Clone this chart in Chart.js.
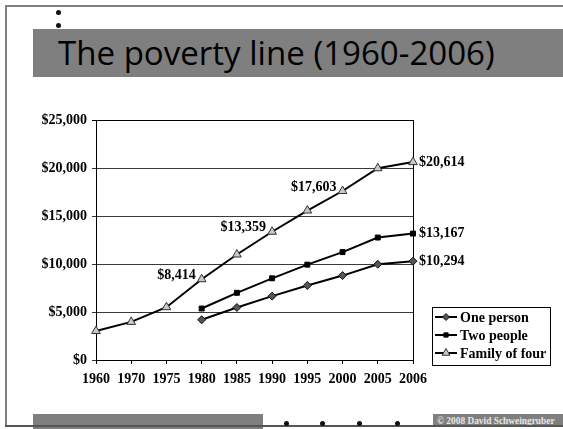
<!DOCTYPE html>
<html>
<head>
<meta charset="utf-8">
<script src="https://cdn.jsdelivr.net/npm/chart.js@4.4.1/dist/chart.umd.min.js"></script>
<style>
  html, body { margin: 0; padding: 0; background: #fff; }
  #slide { position: relative; width: 563px; height: 429px; overflow: hidden; }
  .bar { position: absolute; background: #7f7f7f; }
  .line { position: absolute; background: #808080; }
  .dot { position: absolute; width: 5px; height: 5px; border-radius: 50%; background: #111; }
  #title { position: absolute; left: 58px; top: 31px; font: 32px "Open Sans", sans-serif; line-height: 44px;
           color: #000; white-space: nowrap; transform-origin: 0 0; }
  #copy { position: absolute; left: 437px; top: 414px; font: bold 10px "Liberation Serif", serif;
          color: #e6e6e6; white-space: nowrap; line-height: 13px; transform-origin: 0 0; }
  #chart { position: absolute; left: 0; top: 0; }
</style>
</head>
<body>
<div id="slide">
  <div class="line" style="left:5px;top:5px;width:558px;height:2px"></div>
  <div class="line" style="left:5px;top:5px;width:2px;height:422px"></div>
  <div class="dot" style="left:56px;top:10px"></div>
  <div class="dot" style="left:56px;top:23px"></div>
  <div class="bar" style="left:33px;top:29px;width:530px;height:48px"></div>
  <div id="title">The poverty line (1960-2006)</div>
  <div class="bar" style="left:33px;top:414px;width:230px;height:15px"></div>
  <div class="bar" style="left:433px;top:414px;width:130px;height:13px"></div>
  <div id="copy">© 2008 David Schweingruber</div>
  <div class="line" style="left:5px;top:425px;width:558px;height:2px;background:#555"></div>
  <div class="dot" style="left:284px;top:421px"></div>
  <div class="dot" style="left:320px;top:421px"></div>
  <div class="dot" style="left:357px;top:421px"></div>
  <div class="dot" style="left:395px;top:421px"></div>
  <canvas id="chart" width="563" height="429"></canvas>
</div>
<script>
const years = ['1960', '1970', '1975', '1980', '1985', '1990', '1995', '2000', '2005', '2006'];
const onePerson = [null, null, null, 4190, 5469, 6652, 7763, 8794, 9973, 10294];
const twoPeople = [null, null, null, 5363, 6998, 8509, 9933, 11239, 12755, 13167];
const familyOfFour = [3022, 3968, 5500, 8414, 10989, 13359, 15569, 17603, 19971, 20614];
const seriesNames = ['One person', 'Two people', 'Family of four'];
const yTicks = [0, 5000, 10000, 15000, 20000, 25000];
// which points carry a value label, per series
const labelled = [[9], [9], [3, 5, 7, 9]];

const serif = '"Liberation Serif", "Times New Roman", serif';
const money = v => '$' + Number(v).toLocaleString('en-US');

// squeeze the title and footer text to the widths they have on the slide
const title = document.getElementById('title');
title.style.transform = 'scaleX(' + (437 / title.offsetWidth) + ')';
const copy = document.getElementById('copy');
copy.style.transform = 'scaleX(' + (118 / copy.offsetWidth) + ')';

const styles = [
  { pointStyle: 'rectRot', pointRadius: 4, pointBackgroundColor: '#555', pointBorderColor: '#111', pointBorderWidth: 1 },
  { pointStyle: 'rect', pointRadius: 3.5, pointBackgroundColor: '#000', pointBorderColor: '#000', pointBorderWidth: 1 },
  { pointStyle: 'triangle', pointRadius: 5, pointBackgroundColor: '#c8c8c8', pointBorderColor: '#333', pointBorderWidth: 1 },
];

const valueLabels = {
  id: 'valueLabels',
  afterDatasetsDraw(chart) {
    const ctx = chart.ctx;
    ctx.save();
    ctx.font = 'bold 14px ' + serif;
    ctx.fillStyle = '#000';
    ctx.textBaseline = 'middle';
    labelled.forEach((idxs, d) => {
      const meta = chart.getDatasetMeta(d);
      idxs.forEach(i => {
        const pt = meta.data[i];
        const text = money(chart.data.datasets[d].data[i]);
        if (i === years.length - 1) {
          ctx.textAlign = 'left';
          ctx.fillText(text, pt.x + 6, pt.y);
        } else {
          ctx.textAlign = 'right';
          ctx.fillText(text, pt.x - 6, pt.y - 4);
        }
      });
    });
    ctx.restore();
  }
};

const frame = {
  id: 'frame',
  beforeDatasetsDraw(chart) {
    const a = chart.chartArea, ctx = chart.ctx;
    ctx.save();
    ctx.strokeStyle = '#000';
    ctx.lineWidth = 1;
    ctx.strokeRect(Math.round(a.left) + 0.5, Math.round(a.top) + 0.5,
                   Math.round(a.right - a.left), Math.round(a.bottom - a.top));
    ctx.restore();
  }
};

const boxLegend = {
  id: 'boxLegend',
  afterDraw(chart) {
    const a = chart.chartArea, ctx = chart.ctx;
    const left = Math.round(a.right) + 19, top = Math.round(a.bottom) - 53;
    ctx.save();
    ctx.fillStyle = '#fff';
    ctx.fillRect(left, top, 118, 58);
    ctx.strokeStyle = '#000';
    ctx.lineWidth = 1;
    ctx.strokeRect(left + 0.5, top + 0.5, 118, 58);
    ctx.font = 'bold 14px ' + serif;
    ctx.textBaseline = 'middle';
    ctx.textAlign = 'left';
    seriesNames.forEach((name, i) => {
      const y = top + 10 + i * 18;
      ctx.strokeStyle = '#000';
      ctx.lineWidth = 2;
      ctx.beginPath();
      ctx.moveTo(left + 3, y);
      ctx.lineTo(left + 25, y);
      ctx.stroke();
      const s = styles[i];
      ctx.fillStyle = s.pointBackgroundColor;
      ctx.strokeStyle = s.pointBorderColor;
      ctx.lineWidth = 1;
      Chart.helpers.drawPoint(ctx, { pointStyle: s.pointStyle, radius: s.pointRadius - 0.5, rotation: 0, borderWidth: 1 }, left + 14, y);
      ctx.fillStyle = '#000';
      ctx.fillText(name, left + 28, y + 1);
    });
    ctx.restore();
  }
};

new Chart(document.getElementById('chart'), {
  type: 'line',
  data: {
    labels: years,
    datasets: [onePerson, twoPeople, familyOfFour].map((values, i) => Object.assign({
      label: seriesNames[i],
      data: values,
      borderColor: '#000',
      borderWidth: 2,
      tension: 0,
      fill: false,
    }, styles[i])),
  },
  options: {
    responsive: false,
    animation: false,
    events: [],
    layout: { padding: { top: 120, right: 150, bottom: 0, left: 0 } },
    plugins: { legend: { display: false }, tooltip: { enabled: false } },
    scales: {
      x: {
        type: 'category',
        offset: false,
        grid: { drawOnChartArea: false, color: '#000', tickLength: 4 },
        border: { color: '#000', width: 1 },
        ticks: { color: '#000', font: { family: serif, size: 14, weight: 'bold' }, maxRotation: 0, autoSkip: false, padding: 7 },
        afterFit: s => { s.height = 69; },
      },
      y: {
        min: 0,
        max: 25000,
        afterBuildTicks: s => { s.ticks = yTicks.map(v => ({ value: v })); },
        grid: { color: ctx => (ctx.tick && ctx.tick.value === 25000 ? '#000' : '#3a3a3a'), tickLength: 4 },
        border: { color: '#000', width: 1 },
        ticks: { color: '#000', font: { family: serif, size: 14, weight: 'bold' }, padding: 5, callback: v => money(v) },
        afterFit: s => { s.width = 96; },
      },
    },
  },
  plugins: [frame, valueLabels, boxLegend],
});
</script>
</body>
</html>
